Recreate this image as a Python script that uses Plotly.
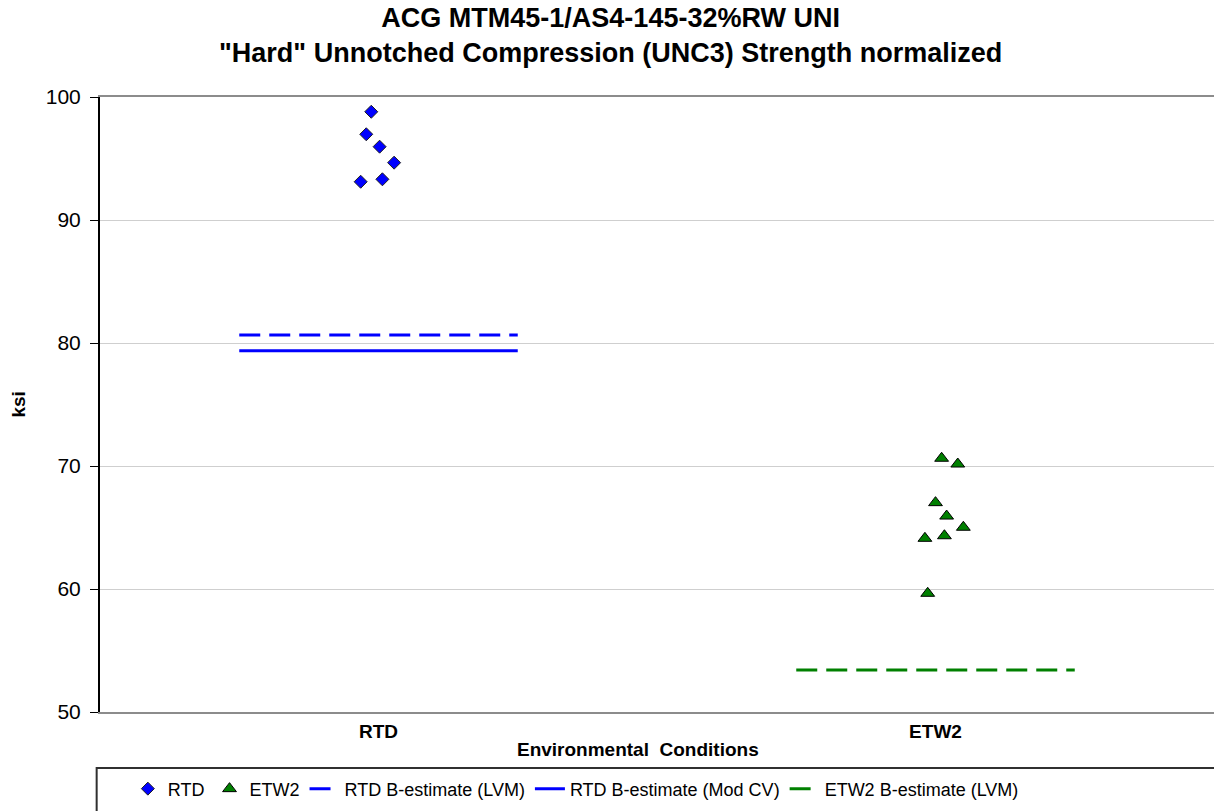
import plotly.graph_objects as go

# ---- data ----
categories = ["RTD", "ETW2"]
cat_pos = [1, 2]

rtd_values = [98.8, 96.97, 95.96, 94.66, 93.11, 93.31]
rtd_jitter = [-0.013, -0.022, 0.002, 0.028, -0.032, 0.007]

etw2_values = [70.63, 70.16, 67.02, 65.93, 65.02, 64.12, 64.33, 59.65]
etw2_jitter = [0.011, 0.040, 0.000, 0.020, 0.050, -0.019, 0.016, -0.014]

rtd_b_lvm = 80.65
rtd_b_modcv = 79.37
etw2_b_lvm = 53.41

y_ticks = [50, 60, 70, 80, 90, 100]

# ---- style ----
FONT = "Liberation Sans, Arial, sans-serif"
half = 0.25  # half-width of the B-estimate lines (in category units)

fig = go.Figure()

fig.add_trace(go.Scatter(
    x=[cat_pos[0] + j for j in rtd_jitter], y=rtd_values, mode="markers", name="RTD",
    marker=dict(symbol="diamond", size=10, color="#0000FF", line=dict(color="#202020", width=1)),
))
fig.add_trace(go.Scatter(
    x=[cat_pos[1] + j for j in etw2_jitter], y=etw2_values, mode="markers", name="ETW2",
    marker=dict(symbol="triangle-up", size=12, color="#008000", line=dict(color="#000000", width=1)),
))
fig.add_trace(go.Scatter(
    x=[cat_pos[0] - half, cat_pos[0] + half], y=[rtd_b_lvm, rtd_b_lvm], mode="lines",
    name="RTD B-estimate (LVM)", line=dict(color="#0000FF", width=3, dash="21px,9px"),
))
fig.add_trace(go.Scatter(
    x=[cat_pos[0] - half, cat_pos[0] + half], y=[rtd_b_modcv, rtd_b_modcv], mode="lines",
    name="RTD B-estimate (Mod CV)", line=dict(color="#0000FF", width=3),
))
fig.add_trace(go.Scatter(
    x=[cat_pos[1] - half, cat_pos[1] + half], y=[etw2_b_lvm, etw2_b_lvm], mode="lines",
    name="ETW2 B-estimate (LVM)", line=dict(color="#008000", width=3, dash="21px,9px"),
))

fig.update_layout(
    width=1214, height=811,
    margin=dict(l=100, r=0, t=97, b=99, autoexpand=False),
    paper_bgcolor="white", plot_bgcolor="white",
    font=dict(family=FONT, color="black"),
    title=dict(
        text="<b>ACG MTM45-1/AS4-145-32%RW UNI<br>\"Hard\" Unnotched Compression (UNC3) Strength normalized</b>",
        x=0.503, xref="container", xanchor="center",
        y=0.967, yref="container", yanchor="top",
        font=dict(size=27, family=FONT, color="black"),
    ),
    xaxis=dict(
        range=[0.5, 2.5], tickvals=cat_pos, ticktext=[f"<b>{c}</b>" for c in categories],
        tickfont=dict(size=19, family=FONT), showgrid=False, zeroline=False,
        showline=True, linecolor="#8c8c8c", linewidth=2, mirror=True, ticks="",
        ticklabelstandoff=1,
    ),
    yaxis=dict(
        range=[50, 100], tickvals=y_ticks, tickfont=dict(size=21, family=FONT),
        showgrid=True, gridcolor="#cfcfcf", gridwidth=1, zeroline=False,
        showline=True, linecolor="black", linewidth=2, ticks="outside", ticklen=8,
        tickcolor="black", ticklabelstandoff=5,
    ),
    showlegend=True,
    legend=dict(
        orientation="h", x=0.025, xanchor="left", y=0.050, yref="container", yanchor="top",
        font=dict(size=18, family=FONT), bgcolor="rgba(0,0,0,0)",
        itemwidth=30, tracegroupgap=0,
    ),
    annotations=[
        dict(text="<b>Environmental  Conditions</b>", xref="paper", yref="paper",
             x=0.483, y=-0.061, xanchor="center", yanchor="middle", showarrow=False,
             font=dict(size=19, family=FONT)),
        dict(text="<b>ksi</b>", xref="paper", yref="paper", x=-0.0736, y=0.5,
             xanchor="center", yanchor="middle", textangle=-90, showarrow=False,
             font=dict(size=19, family=FONT)),
    ],
    shapes=[
        dict(type="rect", xref="paper", yref="paper", x0=-0.003, x1=1.01,
             y0=-0.175, y1=-0.091, line=dict(color="#303030", width=2), fillcolor="rgba(0,0,0,0)"),
    ],
)

fig.write_html("out.html", config={"displayModeBar": False},
               post_script="document.body.style.margin='0';")
